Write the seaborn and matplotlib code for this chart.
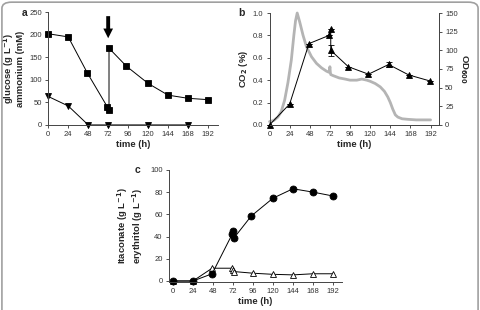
import numpy as np
import pandas as pd
import matplotlib
matplotlib.use("Agg")
import matplotlib.pyplot as plt
import seaborn as sns
from matplotlib.patches import FancyBboxPatch

# panel a: glucose (squares) and ammonium (triangles)
glc_t = [0, 24, 47, 71, 73, 73, 94, 120, 144, 168, 192]
glc_v = [202, 195, 115, 40, 33, 170, 130, 92, 66, 59, 56]
nh4_t = [0, 24, 48, 72, 120, 168]
nh4_v = [63, 42, 0, 0, 0, 0]

# panel b: CO2 off-gas (%) and OD600
co2_t = [0, 5, 10, 14, 18, 22, 26, 29, 31, 33, 36, 40, 44, 50, 56, 62, 68, 71, 72, 72.5, 73, 76,
         83, 90, 96, 104, 110, 116, 120, 126, 132, 137, 141, 144, 147, 150, 153, 158, 165, 175, 185, 192]
co2_v = [0.03, 0.04, 0.07, 0.12, 0.22, 0.38, 0.58, 0.80, 0.93, 1.0, 0.92, 0.80, 0.70, 0.61, 0.55,
         0.51, 0.48, 0.47, 0.52, 0.47, 0.45, 0.44, 0.42, 0.41, 0.40, 0.40, 0.41, 0.40, 0.39, 0.37,
         0.34, 0.30, 0.25, 0.20, 0.14, 0.09, 0.07, 0.055, 0.05, 0.045, 0.045, 0.045]
od_t = [0, 24, 47, 71, 73, 73, 94, 118, 142, 166, 191]
od_v = [0, 28, 109, 120, 128, 100, 78, 68, 81, 67, 59]
od_err = [0, 0, 0, 0, 0, 7, 0, 0, 4, 0, 0]

# panel c: itaconate (filled circles) and erythritol (open triangles)
ita_t = [0, 24, 47, 71, 72, 73, 94, 120, 144, 168, 192]
ita_v = [0, 0, 6.5, 42, 45, 38.5, 58.5, 74.5, 83, 80, 76.5]
ery_t = [0, 24, 47, 71, 72, 73, 96, 120, 144, 168, 192]
ery_v = [0, 0, 11.5, 11.5, 10, 8.5, 7, 6, 5.5, 6.5, 6.5]

xticks = [0, 24, 48, 72, 96, 120, 144, 168, 192]

sns.set_style("ticks")
plt.rcParams["font.family"] = ["Liberation Sans", "DejaVu Sans"]

fig = plt.figure(figsize=(4.8, 3.1), dpi=100)
tick_col = "#333333"
lab_kw = dict(fontsize=6.8, fontweight="bold")


def style(ax, right=False):
    for s in ["top"] + ([] if right else ["right"]):
        ax.spines[s].set_visible(False)
    for s in ax.spines.values():
        s.set_linewidth(0.7)
        s.set_color("#444444")
    ax.tick_params(labelsize=5.5, length=2.5, width=0.6, colors=tick_col, pad=2)
    ax.set_xticks(xticks)
    for ln in ax.lines:
        ln.set_clip_on(False)


def series(ax, t, v, **kw):
    df = pd.DataFrame({"t": t, "v": v})
    sns.lineplot(data=df, x="t", y="v", ax=ax, sort=False, estimator=None,
                 color="black", lw=0.7, markeredgewidth=0.6, markeredgecolor="black", **kw)


# --- a ---
ax_a = fig.add_axes([0.1006, 0.597, 0.3535, 0.364])
series(ax_a, glc_t, glc_v, marker="s", markersize=5)
series(ax_a, nh4_t, nh4_v, marker="v", markersize=5)
ax_a.set_xlim(0, 204)
ax_a.set_ylim(0, 250)
ax_a.set_yticks([0, 50, 100, 150, 200, 250])
ax_a.annotate("", xy=(72, 192), xytext=(72, 241),
              arrowprops=dict(arrowstyle="simple,head_width=1.0,head_length=1.0,tail_width=0.4",
                              mutation_scale=7, color="black", lw=0, shrinkA=0, shrinkB=0))
style(ax_a)
ax_a.set_xlabel("time (h)", labelpad=1, **lab_kw)
ax_a.set_ylabel("glucose (g L$^{\\mathbf{-1}}$)\nammonium (mM)", labelpad=3, linespacing=1.0, **lab_kw)

# --- b ---
ax_b = fig.add_axes([0.5615, 0.597, 0.353, 0.361])
sns.lineplot(x=co2_t, y=co2_v, ax=ax_b, sort=False, estimator=None, color="#b4b4b4", lw=2.0)
ax_b.set_xlim(0, 202)
ax_b.set_ylim(0, 1.0)
ax_b.set_yticks([0, 0.2, 0.4, 0.6, 0.8, 1.0])
ax_b.set_yticklabels(["0.0", "0.2", "0.4", "0.6", "0.8", "1.0"])
style(ax_b, right=True)
ax_b.set_xlabel("time (h)", labelpad=1, **lab_kw)
ax_b.set_ylabel("CO$_\\mathbf{2}$ (%)", labelpad=2, **lab_kw)
ax_b2 = ax_b.twinx()
ax_b2.errorbar(od_t, od_v, yerr=od_err, fmt="none", ecolor="black", elinewidth=0.6, capsize=2, capthick=0.6)
series(ax_b2, od_t, od_v, marker="^", markersize=5)
ax_b2.set_ylim(0, 150)
ax_b2.set_yticks([0, 25, 50, 75, 100, 125, 150])
style(ax_b2, right=True)
ax_b2.spines["left"].set_visible(False)
ax_b2.set_ylabel("OD$_{\\mathbf{600}}$", rotation=270, labelpad=8, **lab_kw)

# --- c ---
ax_c = fig.add_axes([0.352, 0.090, 0.3605, 0.362])
series(ax_c, ery_t, ery_v, marker="^", markersize=5, markerfacecolor="white")
series(ax_c, ita_t, ita_v, marker="o", markersize=5)
ax_c.set_xlim(-4.8, 202.9)
ax_c.set_ylim(-1, 100)
ax_c.set_yticks([0, 20, 40, 60, 80, 100])
style(ax_c)
ax_c.set_xlabel("time (h)", labelpad=1, **lab_kw)
ax_c.set_ylabel("Itaconate (g L$^{\\mathbf{-1}}$)\nerythritol (g L$^{\\mathbf{-1}}$)", labelpad=4, linespacing=1.0, **lab_kw)

fig.text(0.046, 0.958, "a", fontsize=7.5, fontweight="bold", va="center")
fig.text(0.496, 0.958, "b", fontsize=7.5, fontweight="bold", va="center")
fig.text(0.281, 0.452, "c", fontsize=7.5, fontweight="bold", va="center")

# frame around the figure
fig.patches.append(FancyBboxPatch((0.004, -0.02), 0.992, 1.013, transform=fig.transFigure,
                                  boxstyle="round,pad=0,rounding_size=0.02", fill=False,
                                  edgecolor="#a0a0a0", lw=1.2))

fig.savefig("out.png", dpi=100)
